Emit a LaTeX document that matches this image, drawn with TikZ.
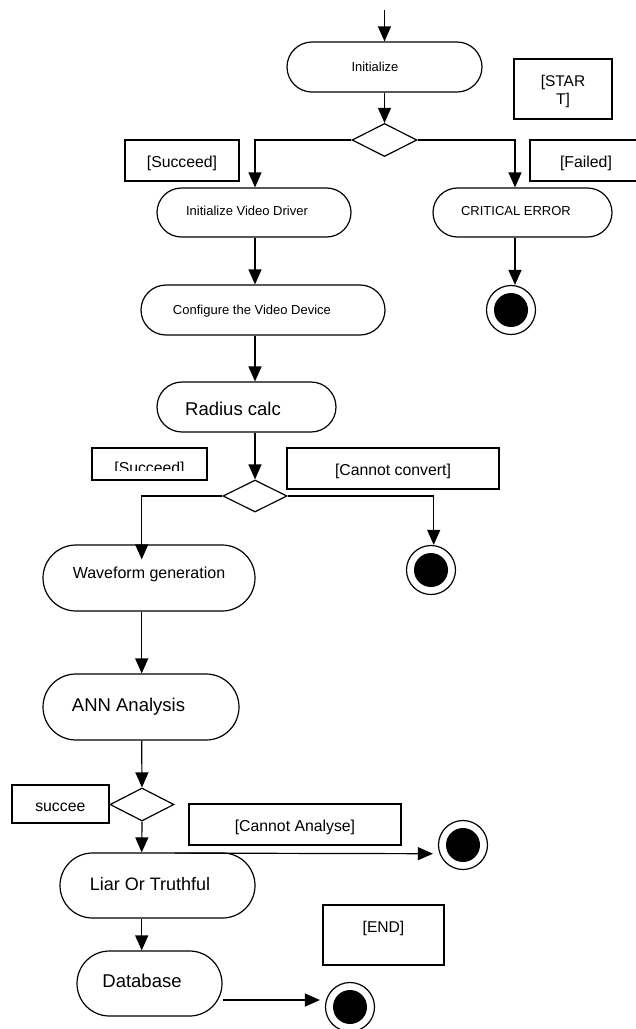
\documentclass[tikz,border=0pt]{standalone}
\usepackage{fontspec}
\setmainfont{Liberation Sans}
\usetikzlibrary{shapes.misc,shapes.geometric,arrows.meta,calc}
\begin{document}
\begin{tikzpicture}[x=1pt,y=-1pt,
  act/.style={rounded rectangle, draw, line width=1.2pt, inner sep=0pt},
  guard/.style={rectangle, draw, line width=1.4pt, inner sep=0pt, text height=14.5pt, text depth=0pt,
    font=\fontsize{15.8}{18}\selectfont},
  dec/.style={diamond, draw, line width=1.2pt, inner sep=0pt},
  fin/.style={circle, draw, line width=1.2pt, minimum size=49pt, inner sep=0pt,
    path picture={\fill (path picture bounding box.center) circle (17pt);}},
  arr/.style={line width=1.2pt, -{Triangle[length=15pt,width=13pt]}},
  txt/.style={inner sep=0pt, text height=0.72em, text depth=0pt},
  fs/.style={font=\fontsize{13}{15}\selectfont},
  fm/.style={font=\fontsize{16}{18}\selectfont},
  fl/.style={font=\fontsize{18.5}{21}\selectfont},
]
\useasboundingbox (0,0) rectangle (636,1029);
\clip (0,0) rectangle (636,1029);

% coordinates for vertical flow lines
\coordinate (xA) at (255,0);
\coordinate (xB) at (141.7,0);
\coordinate (xC) at (433.7,0);
\coordinate (xD) at (515,0);
\coordinate (top) at (384.5,10);

% activities
\node[act, minimum width=195pt, minimum height=50pt,
  label={[txt,fs,name=tinit,xshift=-9.5pt,yshift=-1pt]center:Initialize}] (init) at (384.5,67) {};
\node[act, minimum width=194pt, minimum height=49pt,
  label={[txt,fs,name=tivd,xshift=-7pt,yshift=0.5pt]center:Initialize Video Driver}] (ivd) at (254,212.5) {};
\node[act, minimum width=179pt, minimum height=49pt,
  label={[txt,fs,name=tce,xshift=-6.5pt,yshift=0.5pt]center:CRITICAL ERROR}] (ce) at (522.5,212.5) {};
\node[act, minimum width=244pt, minimum height=50pt,
  label={[txt,fs,name=tcvd,xshift=-11pt,yshift=-1pt]center:Configure the Video Device}] (cvd) at (263,310) {};
\node[act, minimum width=179pt, minimum height=50pt,
  label={[txt,fl,name=trc,xshift=-13.5pt,yshift=-5pt]center:Radius calc}] (rc) at (246.5,407) {};
\node[act, minimum width=212pt, minimum height=66pt,
  label={[txt,fm,name=twave,xshift=0pt,yshift=3pt]center:Waveform generation}] (wave) at (149,578) {};
\node[act, minimum width=196pt, minimum height=66pt,
  label={[txt,fl,name=tann,xshift=-12.5pt,yshift=-0.5pt]center:ANN Analysis}] (ann) at (141,707) {};
\node[act, minimum width=195pt, minimum height=65pt,
  label={[txt,font=\fontsize{18}{21}\selectfont,name=tliar,xshift=-7.5pt,yshift=-1pt]center:Liar Or Truthful}] (liar) at (157.5,885.5) {};
\node[act, minimum width=145pt, minimum height=65pt,
  label={[txt,fl,name=tdb,xshift=-7.5pt,yshift=0pt]center:Database}] (db) at (149.5,983.5) {};

% decisions
\node[dec, minimum width=65pt, minimum height=33pt] (d1) at (384.5,140) {};
\node[dec, minimum width=64pt, minimum height=32pt] (d2) at (255,496) {};
\node[dec, minimum width=64pt, minimum height=33pt] (d3) at (142,804.5) {};

% final nodes
\node[fin] (e1) at (511,310) {};
\node[fin] (e2) at (431,570) {};
\node[fin] (e3) at (463,845) {};
\node[fin] (e4) at (350,1007) {};

% guard boxes
\node[guard, minimum width=98pt, minimum height=60pt,
  label={[inner sep=0pt, align=center, font=\fontsize{15.5}{18}\selectfont, name=tstart, yshift=-2pt]center:{[STAR\\T]}}] (start) at (563,89) {};
\node[guard, minimum width=114pt, minimum height=41pt] (succ1) at (182,160.5) {[Succeed]};
\node[guard, minimum width=112pt, minimum height=41pt] (failed) at (586,160.5) {[Failed]};
\node[guard, minimum width=115pt, minimum height=32pt] (succ2) at (149.5,464) {};
\begin{scope}
  \clip (92,448) rectangle (207,470.5);
  \node[inner sep=0pt, anchor=base, font=\fontsize{15.8}{18}\selectfont] (tsucc2) at (149.5,473.5) {[Succeed]};
\end{scope}
\node[guard, minimum width=212pt, minimum height=41pt] (cc) at (393,468.5) {[Cannot convert]};
\node[guard, minimum width=97pt, minimum height=38pt] (succee) at (60.3,804) {succee};
\node[guard, minimum width=212pt, minimum height=41pt] (ca) at (295,824.5) {[Cannot Analyse]};
\node[guard, minimum width=121pt, minimum height=60pt,
  label={[inner sep=0pt,font=\fontsize{15.6}{18}\selectfont,name=tend,yshift=7pt]center:{[END]}}] (endb) at (383.5,935) {};

% connectors
\draw[arr] (top) -- (init.north);
\draw[arr] (init.south) -- (d1.north);
\draw[arr] (d1.west) -| (ivd.north -| xA);
\draw[arr] (d1.east) -| (ce.north -| xD);
\draw[arr] (ce.south -| xD) -- (e1.north -| xD);
\draw[arr] (ivd.south -| xA) -- (cvd.north -| xA);
\draw[arr] (cvd.south -| xA) -- (rc.north -| xA);
\draw[arr] (rc.south -| xA) -- (d2.north);
\draw[arr] (d2.west) -| ([yshift=-15pt]wave.north -| xB);
\draw[arr] (d2.east) -| (e2.north -| xC);
\draw[arr] (wave.south -| xB) -- (ann.north -| xB);
\draw[arr] (ann.south -| xB) -- (d3.north);
\draw[arr] (d3.south) -- (liar.north -| xB);
\draw[arr] ([yshift=-0.7pt]d3.east |- liar.north) -- ([xshift=-5pt,yshift=-8.7pt]e3.west);
\draw[arr] (liar.south -| xB) -- (db.north -| xB);
\draw[arr] ([yshift=-16.5pt]db.east) -- ([xshift=-5pt,yshift=7pt]e4.west);
\end{tikzpicture}
\end{document}
